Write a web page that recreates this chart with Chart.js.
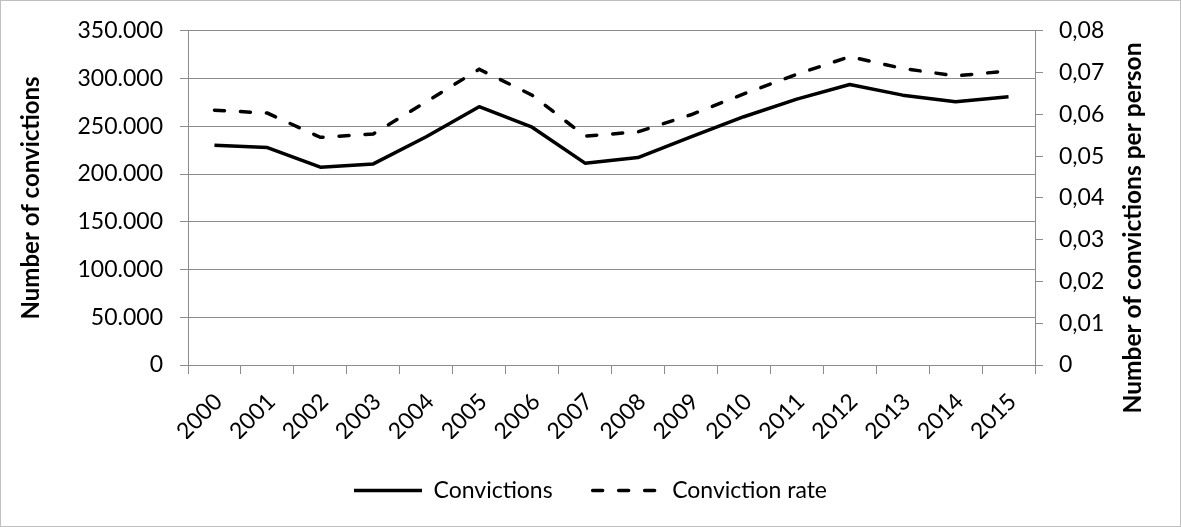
<!DOCTYPE html>
<html>
<head>
<meta charset="utf-8">
<script src="https://cdn.jsdelivr.net/npm/chart.js@4.4.1/dist/chart.umd.min.js"></script>
<style>
  html, body { margin: 0; padding: 0; background: #fff; }
  #wrap { position: relative; width: 1181px; height: 527px; }
</style>
</head>
<body>
<div id="wrap"><canvas id="convChart" width="1181" height="527"></canvas></div>
<script>
// data
const years = ['2000', '2001', '2002', '2003', '2004', '2005', '2006', '2007',
               '2008', '2009', '2010', '2011', '2012', '2013', '2014', '2015'];
const convictions = [230200, 227700, 207200, 210600, 239000, 270500, 249000, 211400,
                     217200, 239000, 260000, 278500, 293800, 282600, 275700, 280900];
const convictionRate = [0.0610, 0.0603, 0.0545, 0.0553, 0.0630, 0.0708, 0.0646, 0.0548,
                        0.0558, 0.0599, 0.0649, 0.0696, 0.0738, 0.0710, 0.0692, 0.0704];
const leftTicks = { min: 0, max: 350000, step: 50000 };
const rightTicks = { min: 0, max: 0.08, step: 0.01 };

const gridGrey = '#8c8c8c';
const fontFam = "Lato, 'Open Sans', sans-serif";
const tickFont = { family: fontFam, size: 23 };

// 350000 -> "350.000", 0.05 -> "0,05"
const fmtThousands = v => String(Math.round(v)).replace(/\B(?=(\d{3})+(?!\d))/g, '.');
const fmtRate = v => (Math.abs(v) < 1e-9 ? '0' : v.toFixed(2).replace('.', ','));

// frame + right axis title (reads bottom-to-top, like the left one)
const extras = {
    id: 'extras',
    afterDraw(chart) {
        const c = chart.ctx;
        c.save();
        c.strokeStyle = '#bfbfbf';
        c.lineWidth = 1;
        c.strokeRect(0.5, 0.5, chart.width - 1, chart.height - 1);
        c.translate(1133, 228);
        c.rotate(-Math.PI / 2);
        c.fillStyle = '#000';
        c.font = '700 24.5px ' + fontFam;
        c.textAlign = 'center';
        c.textBaseline = 'middle';
        c.fillText('Number of convictions per person', 0, 0);
        c.restore();
    }
};

function build() {
    new Chart(document.getElementById('convChart'), {
        type: 'line',
        data: {
            labels: years,
            datasets: [
                {
                    label: 'Convictions',
                    data: convictions,
                    yAxisID: 'y',
                    borderColor: '#000',
                    backgroundColor: 'rgba(0,0,0,0)',
                    borderWidth: 3.5,
                    pointRadius: 0,
                    tension: 0,
                    borderJoinStyle: 'round'
                },
                {
                    label: 'Conviction rate',
                    data: convictionRate,
                    yAxisID: 'y1',
                    borderColor: '#000',
                    backgroundColor: 'rgba(0,0,0,0)',
                    borderWidth: 3.5,
                    borderDash: [10, 16],
                    borderCapStyle: 'round',
                    pointRadius: 0,
                    tension: 0
                }
            ]
        },
        options: {
            responsive: false,
            animation: false,
            layout: { padding: { top: 30, right: 0, bottom: 15, left: 0 } },
            plugins: {
                legend: {
                    position: 'bottom',
                    labels: {
                        usePointStyle: true,
                        pointStyle: 'line',
                        pointStyleWidth: 68,
                        padding: 40,
                        color: '#000',
                        font: tickFont,
                        // point-style legend items lose the dash, put it back
                        generateLabels(chart) {
                            const items = Chart.defaults.plugins.legend.labels.generateLabels(chart);
                            items.forEach(it => {
                                const ds = chart.data.datasets[it.datasetIndex];
                                it.lineDash = ds.borderDash || [];
                                it.lineCap = ds.borderCapStyle || 'butt';
                                it.lineWidth = ds.borderWidth;
                                it.strokeStyle = ds.borderColor;
                            });
                            return items;
                        }
                    }
                },
                tooltip: { enabled: false }
            },
            scales: {
                x: {
                    offset: true,
                    afterFit: s => { s.height = 74; },
                    grid: { offset: true, drawOnChartArea: false, color: gridGrey, tickLength: 9 },
                    border: { color: gridGrey },
                    ticks: {
                        minRotation: 45,
                        maxRotation: 45,
                        labelOffset: 4,
                        padding: 14,
                        color: '#000',
                        font: tickFont
                    }
                },
                y: {
                    position: 'left',
                    min: leftTicks.min,
                    max: leftTicks.max,
                    afterFit: s => { s.width = 188; },
                    grid: { color: gridGrey, tickLength: 8 },
                    border: { color: gridGrey },
                    ticks: {
                        stepSize: leftTicks.step,
                        padding: 17,
                        color: '#000',
                        font: tickFont,
                        callback: v => fmtThousands(v)
                    },
                    title: {
                        display: true,
                        text: 'Number of convictions',
                        color: '#000',
                        font: { family: fontFam, size: 24, weight: 700 },
                        padding: { top: 17, bottom: 0 }
                    }
                },
                y1: {
                    position: 'right',
                    min: rightTicks.min,
                    max: rightTicks.max,
                    afterFit: s => { s.width = 146; },
                    grid: { drawOnChartArea: false, color: gridGrey, tickLength: 8 },
                    border: { color: gridGrey },
                    ticks: {
                        stepSize: rightTicks.step,
                        padding: 16,
                        color: '#000',
                        font: tickFont,
                        callback: v => fmtRate(v)
                    }
                }
            }
        },
        plugins: [extras]
    });
}

// make sure the bold face is ready before the single draw
Promise.all([
    document.fonts.load('700 24px Lato'),
    document.fonts.load('23px Lato')
]).then(build, build);
</script>
</body>
</html>
